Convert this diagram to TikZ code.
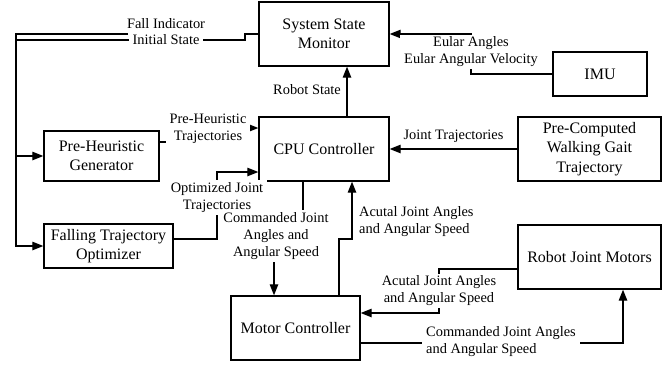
\documentclass[tikz,border=0pt]{standalone}
\usepackage{fontspec}
\setmainfont{Liberation Serif}
\usetikzlibrary{arrows.meta}
\begin{document}
\begin{tikzpicture}[x=1pt,y=-1pt,
  box/.style={draw, line width=1.4pt, align=center, font=\fontsize{16}{19.5}\selectfont, inner sep=0pt},
  conn/.style={line width=1.3pt},
  arr/.style={conn, -{Triangle[length=11pt,width=8.5pt]}},
  lab/.style={align=center, font=\fontsize{14.4}{17}\selectfont, inner sep=2pt},
  wlab/.style={lab, fill=white, inner xsep=4pt}]
\useasboundingbox (0,0) rectangle (669,364);

% boxes
\node[box, minimum width=130pt, minimum height=64pt] (mon) at (324,34) {System State\\Monitor};
\node[box, minimum width=94pt, minimum height=44pt] (imu) at (600,74) {IMU};
\node[box, minimum width=130pt, minimum height=64pt] (cpu) at (324,149) {CPU Controller};
\node[box, minimum width=143pt, minimum height=64pt] (pcw) at (589.5,149) {Pre-Computed\\Walking Gait\\Trajectory};
\node[box, minimum width=115pt, minimum height=50pt] (gen) at (101.5,156) {Pre-Heuristic\\Generator};
\node[box, minimum width=129pt, minimum height=44pt] (fto) at (108.5,246) {Falling Trajectory\\Optimizer};
\node[box, minimum width=143pt, minimum height=64pt] (mot) at (589.5,257) {Robot Joint Motors};
\node[box, minimum width=129pt, minimum height=64pt] (mc) at (295.5,328) {Motor Controller};

% IMU -> monitor
\draw[arr] (imu.west) -- (471,74) -- (471,34) -- (mon.east);
\node[wlab] (limu) at (471,52) {Eular Angles\\Eular Angular Velocity};

% CPU -> monitor
\draw[arr] (cpu.north -| 347,0) -- (mon.south -| 347,0);
\node[lab, anchor=east] (lrs) at (343,90) {Robot State};

% monitor -> left bus
\coordinate (fi) at (128,34);
\draw[arr] (mon.west) -- (245,34) -- (245,40) -- (16,40) -- (16,156) -- (gen.west);
\draw[arr] (fi) -- (16,34) -- (16,246) -- (fto.west);
\node[wlab] (lis) at (166,40) {Initial State};
\node[lab] (lfi) at (166,24) {Fall Indicator};

% pre-computed -> CPU
\draw[arr] (pcw.west) -- (cpu.east);
\node[lab] (ljt) at (453.5,136) {Joint Trajectories};

% generator -> CPU
\draw[arr] (gen.east |- 0,142) -- (208,142) -- (208,128) -- (cpu.west |- 0,128);
\node[wlab] (lph) at (208,128.5) {Pre-Heuristic\\Trajectories};

% optimizer -> CPU
\draw[arr] (fto.east |- 0,239) -- (217,239) -- (217,172) -- (cpu.west |- 0,172);
\node[wlab] (lopt) at (217,197.5) {Optimized Joint\\Trajectories};

% CPU -> motor controller
\draw[arr] (cpu.south -| 303,0) -- (303,237) -- (274,237) -- (mc.north -| 274,0);
\node[wlab] (lcmd) at (276,236) {Commanded Joint\\Angles and\\Angular Speed};

% motor controller -> CPU
\draw[arr] (mc.north -| 339,0) -- (339,239) -- (352,239) -- (cpu.south -| 352,0);
\node[lab, anchor=west, align=left] (lact) at (357,222) {Acutal Joint Angles\\and Angular Speed};

% motors -> motor controller
\draw[arr] (mot.west |- 0,269) -- (439,269) -- (439,313) -- (mc.east |- 0,313);
\node[wlab] (lact2) at (439,291) {Acutal Joint Angles\\and Angular Speed};

% motor controller -> motors
\draw[arr] (mc.east |- 0,343) -- (623,343) -- (mot.south -| 623,0);
\node[wlab, align=left] (lcmd2) at (501,342) {Commanded Joint Angles\\and Angular Speed};
\end{tikzpicture}
\end{document}
